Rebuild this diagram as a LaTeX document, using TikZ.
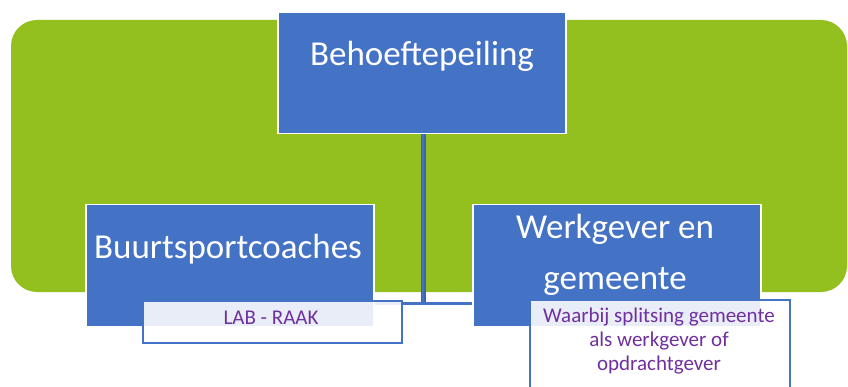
\documentclass[tikz,border=0pt]{standalone}
\usepackage{fontspec}
\setmainfont{Carlito}
\definecolor{bgreen}{RGB}{147,191,31}
\definecolor{oblue}{RGB}{68,114,196}
\definecolor{dblue}{RGB}{60,100,178}
\definecolor{opurple}{RGB}{112,48,160}
\begin{document}
\begin{tikzpicture}[x=1pt,y=-1pt,
  bluebox/.style={draw=white,line width=1.5pt,fill=oblue,anchor=north west,inner sep=0pt},
  bigtext/.style={text=white,font=\fontsize{35}{52}\selectfont,align=center,inner sep=0pt},
  notebox/.style={draw=oblue,line width=2pt,fill=white,fill opacity=0.88,anchor=north west,inner sep=0pt},
  smalltext/.style={text=opurple,font=\fontsize{21}{24}\selectfont,align=center,inner sep=0pt},
  conn/.style={draw=dblue,line width=1.6pt,double=oblue,double distance=1.8pt}]
\clip (0,0) rectangle (848,387);
\fill[white] (0,0) rectangle (848,387);
% green background
\fill[bgreen,rounded corners=26pt] (11,20) rectangle (847,292);
% top box
\node[bluebox,minimum width=288pt,minimum height=121pt] (top) at (277,12) {};
\node[bigtext] (toptxt) at (422,56) {Behoeftepeiling};
% vertical connector
\coordinate (junction) at (423,303);
\draw[conn] (top.south -| junction) -- (junction);
% left box
\node[bluebox,minimum width=288pt,minimum height=122pt] (left) at (85,204) {};
\node[bigtext] (lefttxt) at (228,249) {Buurtsportcoaches};
% right box
\node[bluebox,minimum width=288pt,minimum height=122pt] (right) at (472,204) {};
\node[bigtext] (righttxt1) at (615,229) {Werkgever en};
\node[bigtext] (righttxt2) at (615,281) {gemeente};
% horizontal connector
\draw[oblue,line width=3pt] (left.east |- junction) -- (right.west |- junction);
% note boxes
\node[notebox,minimum width=259pt,minimum height=42pt] (lab) at (142,300) {};
\node[smalltext] (labtxt) at (271,318) {LAB - RAAK};
\node[notebox,minimum width=260pt,minimum height=110pt] (note) at (529,299) {};
\node[smalltext] (notetxt) at (659,341) {Waarbij splitsing gemeente\\als werkgever of\\opdrachtgever};
\end{tikzpicture}
\end{document}
